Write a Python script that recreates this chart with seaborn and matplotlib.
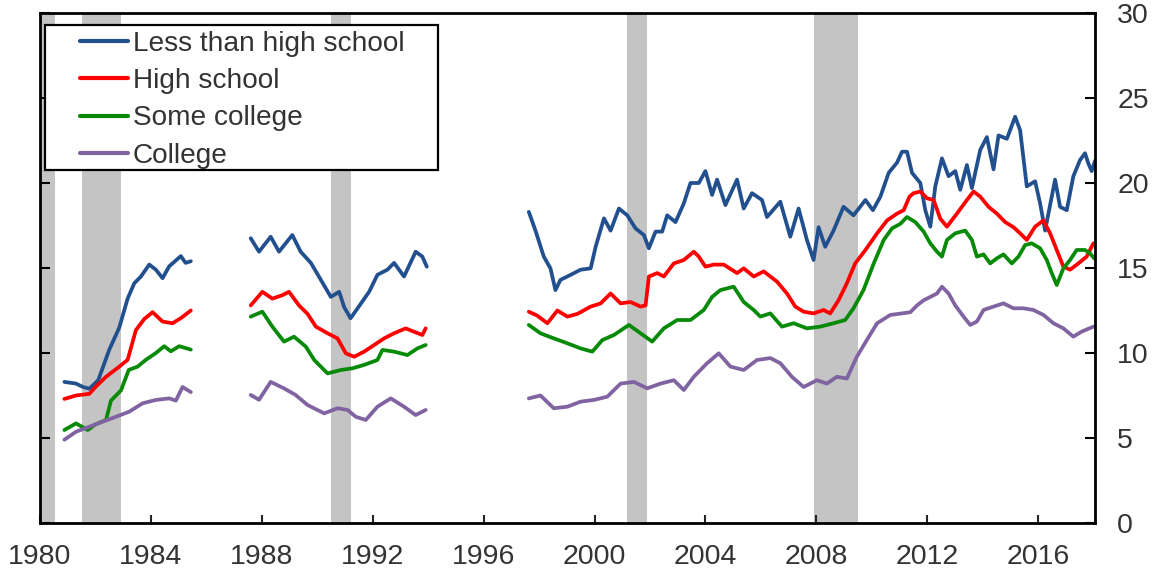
import numpy as np
import pandas as pd
import matplotlib
matplotlib.use("Agg")
import matplotlib.pyplot as plt
import seaborn as sns
from matplotlib.patches import Rectangle
from matplotlib.lines import Line2D

# ---------------- data ----------------
series_names = ["Less than high school", "High school", "Some college", "College"]
line_colors = ["#22508f", "#ff0000", "#078a07", "#8064a2"]

recession_starts = [1980.0, 1981.5, 1990.5, 2001.17, 2007.92]
recession_ends = [1980.55, 1982.92, 1991.2, 2001.9, 2009.5]

x_ticks = [1980, 1984, 1988, 1992, 1996, 2000, 2004, 2008, 2012, 2016]
y_ticks = [0, 5, 10, 15, 20, 25, 30]

less_years = [1980.88, 1981.3, 1981.55, 1981.78, 1982.1, 1982.5, 1982.86, 1983.16, 1983.4, 1983.64,
              1983.94, 1984.18, 1984.42, 1984.66, 1985.08, 1985.25, 1985.44,
              1987.6, 1987.9, 1988.32, 1988.62, 1989.1, 1989.4, 1989.77, 1990.13, 1990.49, 1990.79,
              1990.97, 1991.2, 1991.57, 1991.87, 1992.17, 1992.53, 1992.77, 1993.13, 1993.55, 1993.79, 1993.95,
              1997.63, 1997.87, 1998.17, 1998.41, 1998.59, 1998.77, 1999.14, 1999.5, 1999.86, 2000.04,
              2000.34, 2000.58, 2000.88, 2001.18, 2001.48, 2001.78, 2001.96, 2002.2, 2002.44, 2002.62,
              2002.92, 2003.22, 2003.46, 2003.76, 2004.0, 2004.24, 2004.42, 2004.72, 2005.14, 2005.38,
              2005.68, 2006.04, 2006.22, 2006.7, 2007.06, 2007.36, 2007.66, 2007.9, 2008.08, 2008.32,
              2008.62, 2008.98, 2009.34, 2009.77, 2010.04, 2010.31, 2010.61, 2010.91, 2011.09, 2011.27,
              2011.45, 2011.75, 2011.93, 2012.11, 2012.29, 2012.53, 2012.77, 2013.01, 2013.19, 2013.43,
              2013.61, 2013.91, 2014.15, 2014.39, 2014.57, 2014.87, 2015.17, 2015.35, 2015.59, 2015.89,
              2016.07, 2016.25, 2016.61, 2016.79, 2017.03, 2017.27, 2017.51, 2017.69, 2017.81, 2017.93, 2018.05]
less_vals = [8.3, 8.2, 8.0, 7.9, 8.4, 10.2, 11.5, 13.2, 14.1, 14.5,
             15.2, 14.9, 14.4, 15.1, 15.7, 15.3, 15.4,
             16.75, 15.96, 16.84, 15.96, 16.94, 15.96, 15.3, 14.3, 13.3, 13.6,
             12.7, 12.04, 12.9, 13.6, 14.6, 14.9, 15.3, 14.5, 15.96, 15.67, 15.08,
             18.3, 17.2, 15.67, 14.98, 13.7, 14.3, 14.6, 14.9, 14.98, 16.25,
             17.92, 17.2, 18.5, 18.1, 17.33, 16.94, 16.16, 17.14, 17.14, 18.1,
             17.7, 18.8, 20.0, 20.0, 20.7, 19.3, 20.2, 18.7, 20.2, 18.5,
             19.4, 19.0, 18.0, 18.9, 16.84, 18.5, 16.65, 15.47, 17.4, 16.25,
             17.2, 18.6, 18.1, 19.0, 18.4, 19.2, 20.6, 21.2, 21.84, 21.84,
             20.6, 20.0, 18.4, 17.43, 19.8, 21.45, 20.4, 20.7, 19.6, 21.06,
             19.7, 21.94, 22.7, 20.8, 22.8, 22.6, 23.9, 23.1, 19.8, 20.1,
             18.8, 17.2, 20.2, 18.6, 18.4, 20.4, 21.35, 21.75, 21.15, 20.7, 21.3]

hs_years = [1980.88, 1981.3, 1981.78, 1982.0, 1982.38, 1982.86, 1983.16, 1983.46, 1983.76, 1984.06,
            1984.42, 1984.78, 1985.08, 1985.44,
            1987.6, 1988.02, 1988.38, 1988.74, 1988.98, 1989.34, 1989.65, 1989.95, 1990.37, 1990.73,
            1991.03, 1991.33, 1991.69, 1992.05, 1992.41, 1992.77, 1993.19, 1993.49, 1993.79, 1993.91,
            1997.63, 1997.93, 1998.3, 1998.66, 1999.02, 1999.38, 1999.86, 2000.22, 2000.58, 2000.94,
            2001.3, 2001.66, 2001.84, 2001.96, 2002.26, 2002.5, 2002.86, 2003.22, 2003.58, 2003.76,
            2004.0, 2004.3, 2004.66, 2005.14, 2005.38, 2005.74, 2006.1, 2006.58, 2006.94, 2007.24,
            2007.54, 2007.9, 2008.26, 2008.5, 2008.8, 2009.1, 2009.4, 2009.77, 2010.19, 2010.55,
            2010.91, 2011.15, 2011.36, 2011.51, 2011.75, 2011.99, 2012.23, 2012.47, 2012.71, 2013.07,
            2013.43, 2013.67, 2013.91, 2014.21, 2014.51, 2014.81, 2015.11, 2015.35, 2015.59, 2015.89,
            2016.19, 2016.43, 2016.67, 2016.91, 2017.15, 2017.45, 2017.75, 2017.99]
hs_vals = [7.3, 7.5, 7.6, 8.0, 8.6, 9.2, 9.6, 11.35, 12.0, 12.4,
           11.85, 11.75, 12.05, 12.5,
           12.8, 13.6, 13.2, 13.4, 13.6, 12.8, 12.3, 11.55, 11.16, 10.86,
           9.98, 9.78, 10.08, 10.47, 10.86, 11.16, 11.45, 11.25, 11.06, 11.45,
           12.43, 12.2, 11.75, 12.5, 12.14, 12.3, 12.73, 12.92, 13.5, 12.92,
           13.0, 12.73, 12.8, 14.5, 14.7, 14.5, 15.27, 15.47, 15.96, 15.67,
           15.08, 15.2, 15.2, 14.7, 14.98, 14.5, 14.8, 14.2, 13.5, 12.73,
           12.43, 12.33, 12.53, 12.33, 13.1, 14.1, 15.27, 16.06, 17.04, 17.8,
           18.2, 18.4, 19.2, 19.4, 19.5, 19.1, 19.0, 17.9, 17.43, 18.2,
           19.0, 19.5, 19.2, 18.6, 18.2, 17.7, 17.4, 17.04, 16.65, 17.43,
           17.8, 17.04, 16.06, 15.08, 14.9, 15.27, 15.67, 16.45]

some_years = [1980.88, 1981.3, 1981.72, 1982.0, 1982.38, 1982.56, 1982.92, 1983.2, 1983.52, 1983.82,
              1984.18, 1984.48, 1984.72, 1985.02, 1985.44,
              1987.6, 1988.02, 1988.38, 1988.8, 1989.16, 1989.59, 1989.89, 1990.37, 1990.85, 1991.27,
              1991.69, 1992.17, 1992.35, 1992.77, 1993.25, 1993.61, 1993.91,
              1997.63, 1998.05, 1998.53, 1999.02, 1999.5, 1999.92, 2000.28, 2000.7, 2001.24, 2001.66,
              2002.08, 2002.5, 2002.98, 2003.46, 2003.94, 2004.24, 2004.54, 2005.02, 2005.38, 2005.74,
              2005.98, 2006.34, 2006.76, 2007.18, 2007.66, 2008.14, 2008.62, 2009.04, 2009.34, 2009.7,
              2010.07, 2010.43, 2010.73, 2011.03, 2011.27, 2011.57, 2011.87, 2012.11, 2012.35, 2012.53,
              2012.71, 2013.01, 2013.37, 2013.61, 2013.79, 2014.03, 2014.27, 2014.51, 2014.75, 2015.05,
              2015.29, 2015.53, 2015.77, 2016.07, 2016.31, 2016.49, 2016.67, 2016.91, 2017.15, 2017.39,
              2017.69, 2017.87, 2018.02]
some_vals = [5.47, 5.86, 5.47, 5.8, 6.06, 7.2, 7.8, 9.0, 9.2, 9.6,
             10.0, 10.4, 10.1, 10.4, 10.2,
             12.14, 12.43, 11.55, 10.67, 10.96, 10.37, 9.59, 8.8, 9.0, 9.1,
             9.3, 9.59, 10.18, 10.08, 9.88, 10.27, 10.47,
             11.65, 11.16, 10.86, 10.57, 10.27, 10.08, 10.76, 11.06, 11.65, 11.16,
             10.67, 11.45, 11.94, 11.94, 12.53, 13.3, 13.7, 13.9, 13.0, 12.53,
             12.14, 12.33, 11.55, 11.75, 11.45, 11.55, 11.75, 11.94, 12.63, 13.7,
             15.27, 16.65, 17.33, 17.6, 18.0, 17.7, 17.14, 16.45, 15.96, 15.67,
             16.65, 17.04, 17.2, 16.65, 15.67, 15.8, 15.27, 15.57, 15.8, 15.27,
             15.67, 16.35, 16.45, 16.16, 15.47, 14.7, 14.0, 14.98, 15.47, 16.06,
             16.06, 15.86, 15.57]

college_years = [1980.88, 1981.3, 1981.78, 1982.26, 1982.74, 1983.22, 1983.7, 1984.18, 1984.66, 1984.9,
                 1985.14, 1985.44,
                 1987.6, 1987.9, 1988.32, 1988.8, 1989.22, 1989.65, 1990.25, 1990.73, 1991.09, 1991.39,
                 1991.75, 1992.17, 1992.65, 1993.13, 1993.55, 1993.91,
                 1997.63, 1998.05, 1998.53, 1999.02, 1999.5, 1999.98, 2000.46, 2000.94, 2001.42, 2001.9,
                 2002.38, 2002.86, 2003.22, 2003.58, 2004.06, 2004.48, 2004.9, 2005.38, 2005.86, 2006.34,
                 2006.7, 2007.12, 2007.54, 2008.02, 2008.38, 2008.74, 2009.1, 2009.46, 2009.82, 2010.19,
                 2010.67, 2011.09, 2011.39, 2011.63, 2011.87, 2012.11, 2012.35, 2012.53, 2012.77, 2013.01,
                 2013.31, 2013.55, 2013.79, 2014.03, 2014.39, 2014.75, 2015.11, 2015.47, 2015.83, 2016.19,
                 2016.55, 2016.91, 2017.27, 2017.57, 2017.99]
college_vals = [4.9, 5.37, 5.66, 5.96, 6.25, 6.55, 7.04, 7.24, 7.33, 7.2,
                8.0, 7.7,
                7.53, 7.25, 8.3, 7.92, 7.53, 6.94, 6.45, 6.75, 6.65, 6.25,
                6.06, 6.84, 7.33, 6.84, 6.35, 6.65,
                7.33, 7.5, 6.75, 6.84, 7.14, 7.24, 7.43, 8.2, 8.3, 7.92,
                8.2, 8.4, 7.82, 8.6, 9.4, 9.98, 9.2, 9.0, 9.59, 9.7,
                9.4, 8.6, 8.0, 8.4, 8.2, 8.6, 8.5, 9.78, 10.76, 11.75,
                12.24, 12.33, 12.4, 12.8, 13.1, 13.3, 13.5, 13.9, 13.5, 12.8,
                12.14, 11.65, 11.85, 12.53, 12.73, 12.92, 12.63, 12.63, 12.53, 12.24,
                11.75, 11.45, 10.96, 11.26, 11.55]

# ---------------- long-form table ----------------
frames = []
for name, yrs, vals in zip(series_names,
                           [less_years, hs_years, some_years, college_years],
                           [less_vals, hs_vals, some_vals, college_vals]):
    yrs = np.asarray(yrs, dtype=float)
    seg = np.concatenate([[0], np.cumsum(np.diff(yrs) > 1.0)])
    frames.append(pd.DataFrame({"year": yrs, "value": vals, "series": name, "segment": seg}))
df = pd.concat(frames, ignore_index=True)

# ---------------- figure ----------------
sns.set_theme(style="white")
plt.rcParams['font.family'] = ['Liberation Sans', 'DejaVu Sans']

W, H = 1176, 571
fig = plt.figure(figsize=(W / 100, H / 100), dpi=100)
ax = fig.add_axes([40 / W, (H - 523) / H, 1055 / W, 510 / H])

for a, b in zip(recession_starts, recession_ends):
    ax.axvspan(a, b, color="#c4c4c4", lw=0, zorder=0)

sns.lineplot(data=df, x="year", y="value", hue="series", hue_order=series_names,
             palette=line_colors, units="segment", estimator=None, linewidth=2.7,
             legend=False, ax=ax)

ax.set_xlim(1980, 2018.05)
ax.set_ylim(0, 30)
ax.set_xticks(x_ticks)
ax.set_yticks(y_ticks)
ax.set_xlabel("")
ax.set_ylabel("")

ax.tick_params(axis="y", left=True, right=True, labelleft=False, labelright=True,
               direction="in", length=7, width=1.5, pad=16, labelsize=20.5, colors="black",
               labelcolor="#333333")
ax.tick_params(axis="x", bottom=True, top=False, direction="in", length=6, width=1.5,
               pad=15, labelsize=20.5, labelcolor="#333333")
for sp in ax.spines.values():
    sp.set_visible(True)
    sp.set_color("black")
    sp.set_linewidth(2)

# legend
frame = Rectangle((5 / 1055, 1 - (170 - 13) / 510), (438 - 45) / 1055, (170 - 25) / 510,
                  transform=ax.transAxes, facecolor="white", edgecolor="black",
                  linewidth=1.6, zorder=4)
ax.add_patch(frame)
handles = [Line2D([0], [0], color=c, lw=3) for c in line_colors]
FS = 20.2
F = FS * 100 / 72
leg = ax.legend(handles, series_names, loc="upper left",
                bbox_to_anchor=((80 - 40) / 1055, 1 - (31 - 13) / 510),
                frameon=False, borderpad=0, borderaxespad=0,
                handlelength=48 / F, handletextpad=5 / F, labelspacing=0.4,
                fontsize=FS)
for t in leg.get_texts():
    t.set_color("#333333")
leg.set_zorder(5)

fig.savefig("out.png", dpi=100)
